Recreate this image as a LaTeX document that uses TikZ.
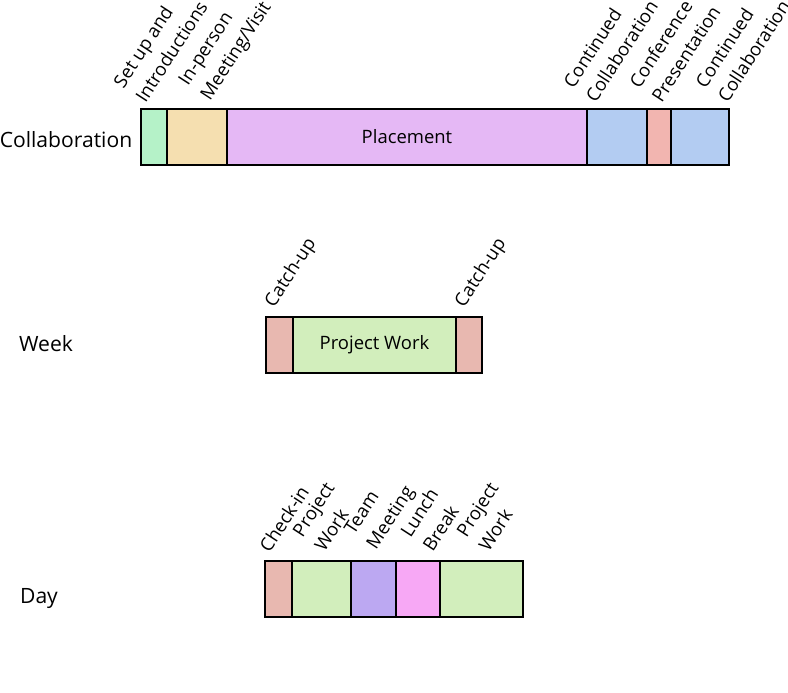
\documentclass[tikz,border=0pt]{standalone}
\usepackage{fontspec}
\setmainfont{Open Sans}
\usetikzlibrary{positioning}
\definecolor{cgreen}{HTML}{B5F2C8}
\definecolor{ctan}{HTML}{F5DFB0}
\definecolor{cpurple}{HTML}{E5B8F5}
\definecolor{cblue}{HTML}{B3CCF2}
\definecolor{cpink}{HTML}{F2B5B0}
\definecolor{crose}{HTML}{E8B8B0}
\definecolor{clime}{HTML}{D2EEBC}
\definecolor{cviolet}{HTML}{BCA8F2}
\definecolor{cmagenta}{HTML}{F7A8F5}
\tikzset{
  every node/.append style={font=\fontsize{10.5}{15}\selectfont},
  title/.style={font=\fontsize{12}{14}\selectfont},
  box/.style={draw, line width=0.8pt, inner sep=0pt, outer sep=0pt, minimum height=1.12cm},
  tag/.style={rotate=57, anchor=south west, inner sep=0pt, align=left},
}
\begin{document}
\begin{tikzpicture}[x=0.02cm, y=-0.02cm]
  \useasboundingbox (0,0) rectangle (788,693);
  % row titles
  \node[title] at (66,140) (lcollab) {Collaboration};
  \node[title] at (46,344) (lweek) {Week};
  \node[title] at (39,599) (lday) {Day};

  % collaboration
  \node[box, fill=cgreen, minimum width=0.52cm] at (154,137) (setup) {};
  \node[box, fill=ctan, minimum width=1.2cm] at (197,137) (visit) {};
  \node[box, fill=cpurple, minimum width=7.2cm] at (407,137) (place) {Placement};
  \node[box, fill=cblue, minimum width=1.2cm] at (617,137) (cont1) {};
  \node[box, fill=cpink, minimum width=0.48cm] at (659,137) (conf) {};
  \node[box, fill=cblue, minimum width=1.16cm] at (700,137) (cont2) {};
  \node[tag] at (146,104) (tsetup) {Set up and\\Introductions};
  \node[tag] at (214,104) (tvisit) {In-person\\Meeting/Visit};
  \node[tag] at (596,104) (tcont1) {Continued\\Collaboration};
  \node[tag] at (662,104) (tconf) {Conference\\Presentation};
  \node[tag] at (728,104) (tcont2) {Continued\\Collaboration};

  % week
  \node[box, fill=crose, minimum width=0.54cm] at (279.5,345) (catch1) {};
  \node[box, fill=clime, minimum width=3.26cm] at (374.5,345) (proj) {Project Work};
  \node[box, fill=crose, minimum width=0.52cm] at (469,345) (catch2) {};
  \node[tag] at (278,311) (tcatch1) {Catch-up};
  \node[tag] at (468,311) (tcatch2) {Catch-up};

  % day
  \node[box, fill=crose, minimum width=0.54cm] at (278.5,589) (check) {};
  \node[box, fill=clime, minimum width=1.18cm] at (321.5,589) (work1) {};
  \node[box, fill=cviolet, minimum width=0.9cm] at (373.5,589) (team) {};
  \node[box, fill=cmagenta, minimum width=0.88cm] at (418,589) (lunch) {};
  \node[box, fill=clime, minimum width=1.66cm] at (481.5,589) (work2) {};
  \node[tag] at (270,554) (tcheck) {Check-in};
  \node[tag] at (325,553) (twork1) {Project\\Work};
  \node[tag] at (380,553) (tteam) {Team\\Meeting};
  \node[tag] at (433,553) (tlunch) {Lunch\\Break};
  \node[tag] at (489,553) (twork2) {Project\\Work};
\end{tikzpicture}
\end{document}
